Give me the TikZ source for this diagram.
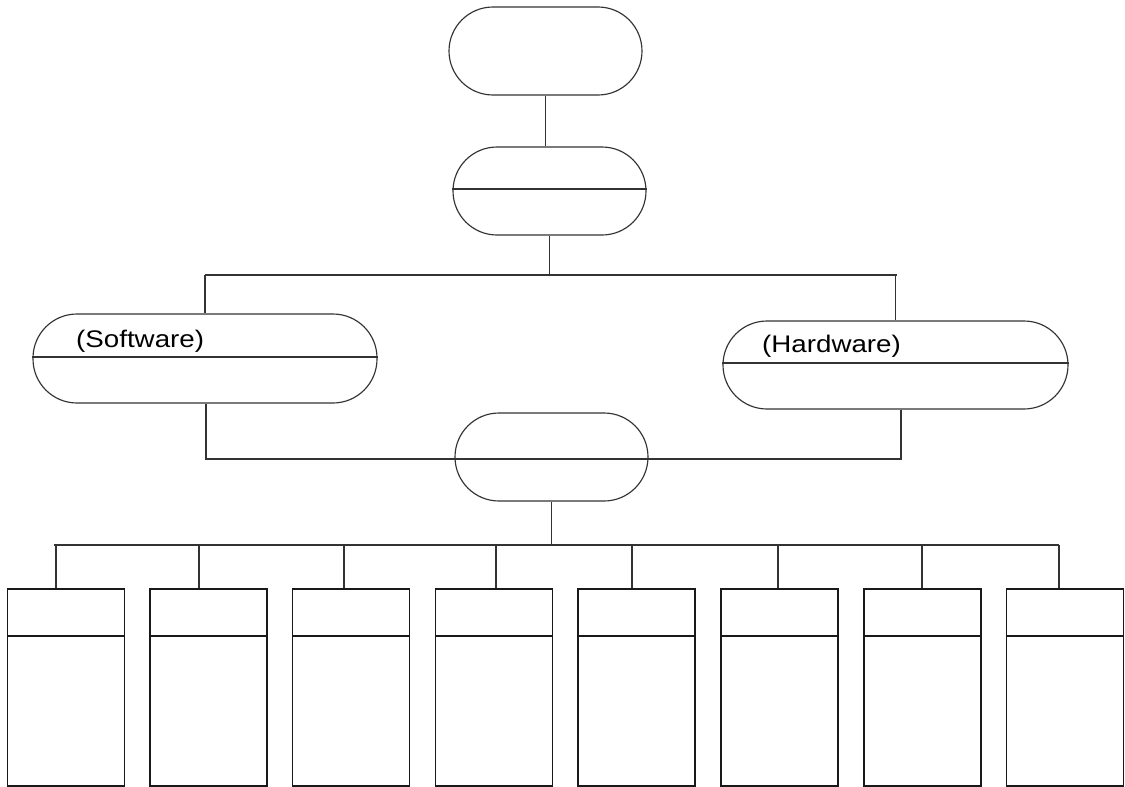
\documentclass[tikz,border=0pt]{standalone}
\usepackage{fontspec}
\newfontfamily\lab[FakeStretch=1.155]{Liberation Sans}
\begin{document}
\begin{tikzpicture}[x=1pt,y=-1pt,
  ln/.style={draw=black!80, line width=1.15pt},
  stad/.style={ln, rectangle, rounded corners=44pt, inner sep=0pt, minimum height=88pt},
  rbox/.style={draw=black!90, line width=1.05pt, rectangle, inner sep=0pt, minimum width=117pt, minimum height=197pt},
  lbl/.style={anchor=base west, inner sep=0pt, font=\lab\fontsize{24}{28}\selectfont}]
\useasboundingbox (0,0) rectangle (1125,787);

% upper stadium nodes
\node[stad, minimum width=193pt] (top) at (545.5,51) {};
\node[stad, minimum width=193pt] (sec) at (549.5,191) {};
\draw[ln] (sec.west |- 0,189) -- (sec.east |- 0,189);

\node[stad, minimum width=344pt, minimum height=89pt] (sw) at (205,358.5) {};
\draw[ln] (sw.west |- 0,357) -- (sw.east |- 0,357);
\node[lbl] (swl) at (76,347) {(Software)};

\node[stad, minimum width=345pt] (hw) at (895.5,365) {};
\draw[ln] (hw.west |- 0,363) -- (hw.east |- 0,363);
\node[lbl] (hwl) at (762,352) {(Hardware)};

\node[stad, minimum width=193pt] (mid) at (551.5,457) {};

% connectors top
\draw[ln] (top.south) -- (top.south |- sec.north);
\coordinate (hl) at (205,275);
\coordinate (hr) at (897,275);
\draw[ln] (sec.south) -- (sec.south |- hl);
\draw[ln] (hl) -- (hr);
\draw[ln] (hl) -- (hl |- sw.north);
\draw[ln] (hr -| hw.north) -- (hw.north);

% join line through middle node
\coordinate (lj) at (206,459);
\coordinate (rj) at (901,459);
\draw[ln] (lj |- sw.south) -- (lj) -- (rj) -- (rj |- hw.south);

% bus
\coordinate (busL) at (54,545);
\coordinate (busR) at (1059,545);
\draw[ln] (mid.south) -- (mid.south |- busL);
\draw[ln] (busL) -- (busR);

% bottom boxes
\foreach \i/\cx/\dx in {1/66/56, 2/208.5/199, 3/351.25/344, 4/493.75/496, 5/636.5/632, 6/779.5/778, 7/922.5/922, 8/1065/1059}{
  \node[rbox] (b\i) at (\cx,687.5) {};
  \draw[draw=black!90, line width=1.05pt] (b\i.west |- 0,636) -- (b\i.east |- 0,636);
  \coordinate (d\i) at (\dx,545);
  \draw[ln] (d\i) -- (d\i |- b\i.north);
}
\end{tikzpicture}
\end{document}
